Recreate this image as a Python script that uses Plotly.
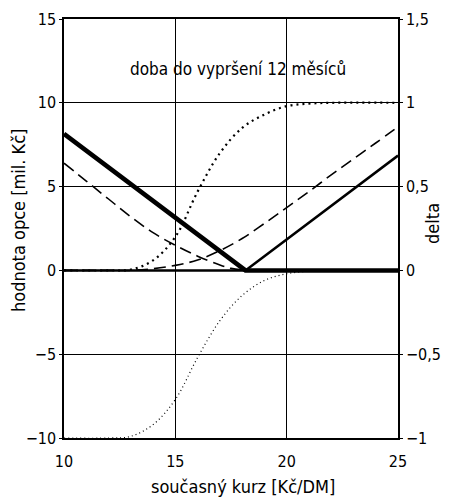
import plotly.graph_objects as go

# --- data ---
strike_x = [10, 18.15, 25]
put_intrinsic = [8.15, 0, 0]
call_intrinsic = [0, 0, 6.85]

put_x = [10, 11, 12, 13, 14, 15, 16, 17, 17.5, 18, 19, 20, 25]
put_value = [6.4, 5.33, 4.26, 3.2, 2.25, 1.5, 0.85, 0.32, 0.12, 0.04, 0.0, 0.0, 0.0]

call_x = [10, 12, 13, 14, 15, 16, 17, 18, 19, 20, 21, 22, 23, 24, 25]
call_value = [0, 0, 0.0, 0.1, 0.3, 0.62, 1.18, 1.9, 2.8, 3.75, 4.7, 5.7, 6.65, 7.6, 8.57]

delta_x = [10, 12, 13, 14, 15, 16, 17, 18, 19, 20, 21, 22, 25]
call_delta = [0, 0, 0.005, 0.06, 0.2, 0.47, 0.7, 0.85, 0.93, 0.98, 0.995, 1.0, 1.0]
put_delta = [-1, -1, -0.99, -0.92, -0.77, -0.52, -0.3, -0.15, -0.06, -0.02, -0.005, 0.0, 0.0]

x_ticks = [10, 15, 20, 25]
y_ticks = [-10, -5, 0, 5, 10, 15]
y_ticktext = ["\u221210", "\u22125", "0", "5", "10", "15"]
y2_ticks = [-1, -0.5, 0, 0.5, 1, 1.5]
y2_ticktext = ["\u22121", "\u22120,5", "0", "0,5", "1", "1,5"]

FONT = "DejaVu Sans Condensed, DejaVu Sans, sans-serif"

fig = go.Figure()
fig.add_trace(go.Scatter(x=delta_x, y=call_delta, yaxis="y2", mode="lines",
                         line=dict(color="black", width=2.2, dash="2px,4px", shape="spline")))
fig.add_trace(go.Scatter(x=delta_x, y=put_delta, yaxis="y2", mode="lines",
                         line=dict(color="black", width=1.2, dash="1px,3px", shape="spline")))
fig.add_trace(go.Scatter(x=put_x, y=put_value, mode="lines",
                         line=dict(color="black", width=1.6, dash="12px,6px", shape="spline")))
fig.add_trace(go.Scatter(x=call_x, y=call_value, mode="lines",
                         line=dict(color="black", width=1.6, dash="12px,6px", shape="spline")))
fig.add_trace(go.Scatter(x=strike_x, y=call_intrinsic, mode="lines",
                         line=dict(color="black", width=2.5)))
fig.add_trace(go.Scatter(x=strike_x, y=put_intrinsic, mode="lines",
                         line=dict(color="black", width=4.5)))

title_font = dict(family=FONT, size=18, color="black")
fig.add_annotation(x=17.8, y=12, xref="x", yref="y", text="doba do vypršení 12 měsíců",
                   showarrow=False, font=dict(family=FONT, size=17, color="black"))
fig.add_annotation(x=0.536, y=-0.1146, xref="paper", yref="paper", text="současný kurz [Kč/DM]",
                   xanchor="center", yanchor="middle", showarrow=False, font=title_font)
fig.add_annotation(x=-0.138, y=0.52, xref="paper", yref="paper", text="hodnota opce [mil. Kč]",
                   xanchor="center", yanchor="middle", textangle=-90, showarrow=False, font=title_font)
fig.add_annotation(x=1.105, y=0.511, xref="paper", yref="paper", text="delta",
                   xanchor="center", yanchor="middle", textangle=-90, showarrow=False, font=title_font)

fig.update_layout(
    width=454, height=497,
    margin=dict(l=64, r=56, t=19, b=59, autoexpand=False),
    paper_bgcolor="white", plot_bgcolor="white",
    showlegend=False,
    font=dict(family=FONT, size=16, color="black"),
    xaxis=dict(range=[10, 25], tickvals=x_ticks, ticktext=[str(v) for v in x_ticks],
               showgrid=True, gridcolor="black", gridwidth=1, automargin=False,
               showline=True, linecolor="black", linewidth=1.5, mirror=True,
               zeroline=False, ticks="", ticklen=0, ticklabelstandoff=8),
    yaxis=dict(range=[-10, 15], tickvals=y_ticks, ticktext=y_ticktext,
               showgrid=True, gridcolor="black", gridwidth=1, automargin=False,
               showline=True, linecolor="black", linewidth=1.5, mirror=True,
               zeroline=False, ticks="outside", ticklen=3, tickcolor="black"),
    yaxis2=dict(range=[-1, 1.5], tickvals=y2_ticks, ticktext=y2_ticktext,
                overlaying="y", side="right", showgrid=False, zeroline=False,
                showline=True, linecolor="black", linewidth=1.5, automargin=False,
                ticks="outside", ticklen=3, tickcolor="black"),
)

fig.write_html("out.html", config={"displayModeBar": False},
               post_script="document.body.style.margin='0';document.body.style.overflow='hidden';")
